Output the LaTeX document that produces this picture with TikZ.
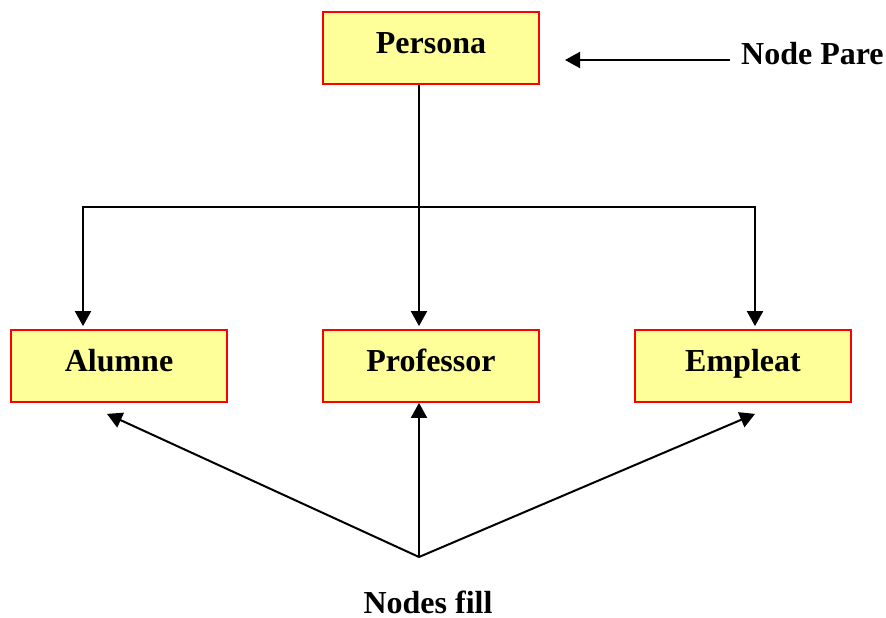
\documentclass[tikz,border=0pt]{standalone}
\usepackage{fontspec}
\setmainfont{Liberation Serif}
\usetikzlibrary{arrows.meta,calc}
\definecolor{boxyellow}{HTML}{FFFF99}
\begin{document}
\begin{tikzpicture}[x=1pt,y=-1pt,
  labelfont/.style={font=\fontsize{32}{37}\selectfont\bfseries},
  classbox/.style={labelfont, draw=red, fill=boxyellow, line width=1.8pt,
    minimum width=216pt, minimum height=72pt, inner sep=0pt,
    text height=22pt, text depth=12pt},
  caption/.style={labelfont, inner sep=0pt},
  link/.style={line width=2pt, -{Triangle[length=15pt,width=16pt]}},
  plain/.style={line width=2pt}]
  \useasboundingbox (0,0) rectangle (886,618);

  % class boxes
  \node[classbox] (persona)   at (431,48)  {Persona};
  \node[classbox] (alumne)    at (119,366) {Alumne};
  \node[classbox] (professor) at (431,366) {Professor};
  \node[classbox] (empleat)   at (743,366) {Empleat};

  % captions
  \node[caption, anchor=base west] (pare) at (741,65)  {Node Pare};
  \node[caption, anchor=base]      (fills) at (428,613) {Nodes fill};

  % junction points
  \coordinate (branch)  at (419,207);
  \coordinate (meet)    at (419,557);
  \coordinate (pareTip) at (565,60);

  % parent to children
  \draw[plain] ([xshift=-12pt]persona.south) -- (branch);
  \draw[link] (branch) -| ([xshift=-36pt,yshift=3pt]alumne.north);
  \draw[link] (branch) -- ([xshift=-12pt,yshift=3pt]professor.north);
  \draw[link] (branch) -| ([xshift=12pt,yshift=3pt]empleat.north);

  % children pointers
  \draw[link] (meet) -- ([xshift=-12pt,yshift=-11pt]alumne.south);
  \draw[link] (meet) -- ([xshift=-12pt]professor.south);
  \draw[link] (meet) -- ([xshift=12pt,yshift=-11pt]empleat.south);

  % parent pointer
  \draw[link] ([xshift=-11pt,yshift=5pt]pare.base west) -- (pareTip);
\end{tikzpicture}
\end{document}
